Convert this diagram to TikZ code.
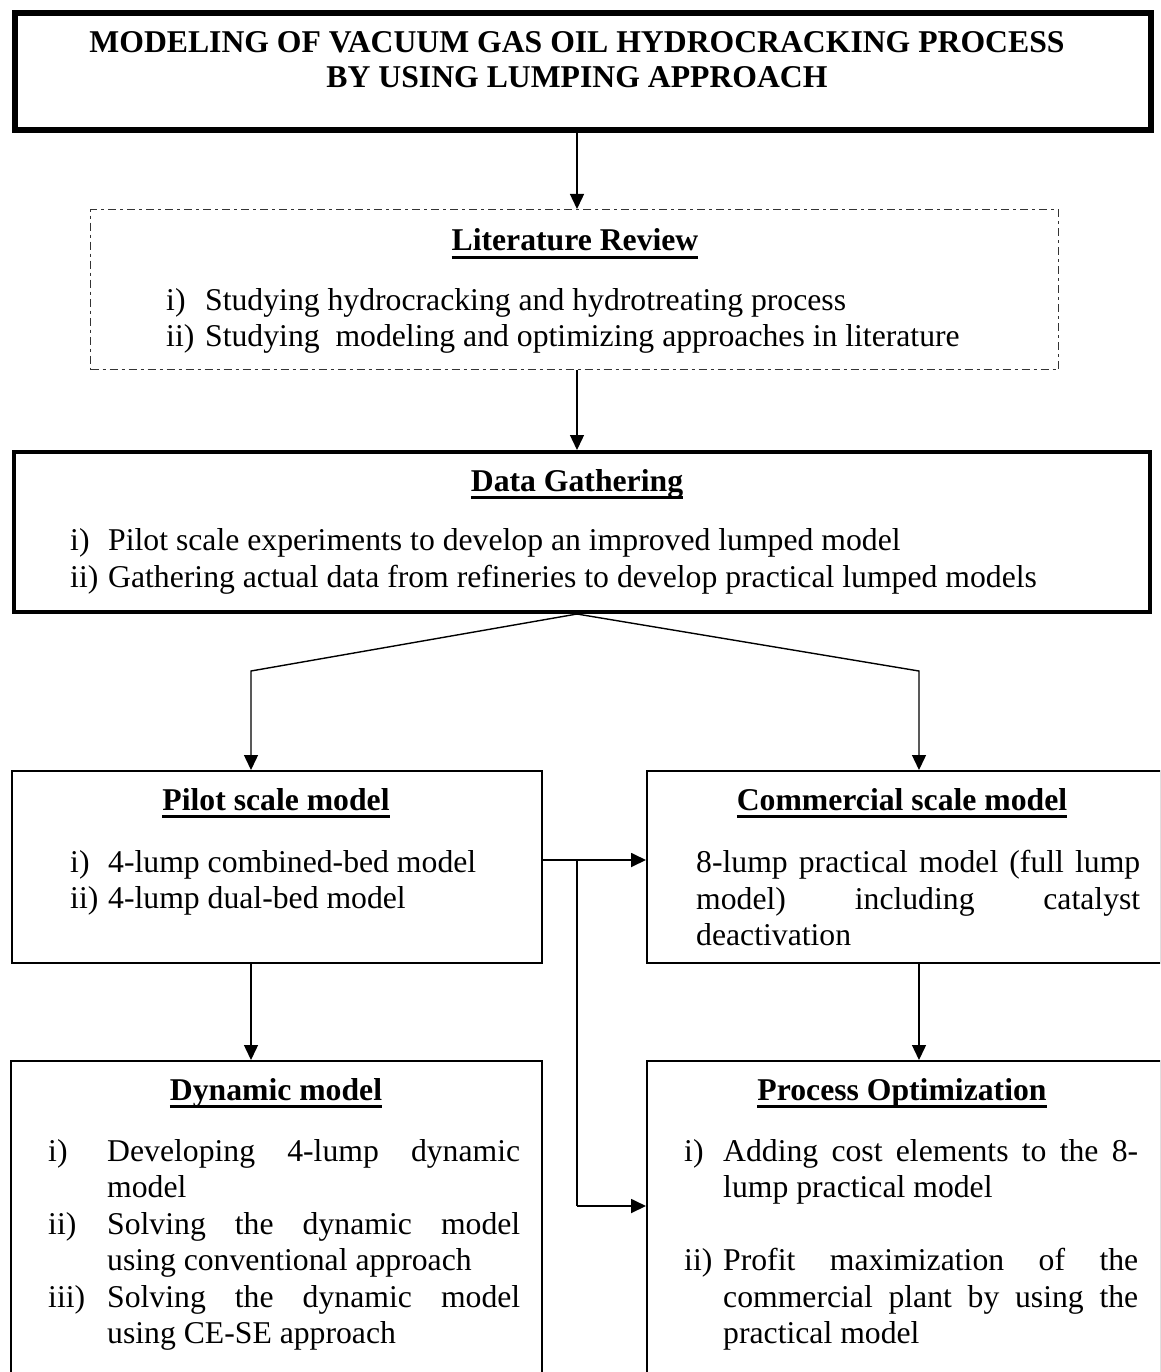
\documentclass[tikz,border=0pt]{standalone}
\usepackage{fontspec}
\setmainfont{Liberation Serif}
\usetikzlibrary{arrows.meta}
\newcommand\hul[1]{\setbox0=\hbox{#1}\rlap{\rule[-8pt]{\wd0}{3pt}}\box0}
\begin{document}
\begin{tikzpicture}[x=1pt,y=-1pt,
  txt/.style={inner sep=0pt, anchor=base west, font=\fontsize{31.7}{36.5}\selectfont},
  hd/.style={inner sep=0pt, anchor=base, font=\fontsize{31.7}{36.5}\selectfont\bfseries},
  boxx/.style={draw, inner sep=0pt, anchor=north west, line width=2.2pt},
  arr/.style={-{Triangle[length=15pt,width=14pt]}, line width=1.4pt},
  harr/.style={-{Triangle[length=15pt,width=14pt]}, line width=1.8pt}]
\useasboundingbox (0,0) rectangle (1160,1372);
\clip (0,0) rectangle (1160,1372);
\fill[white] (0,0) rectangle (1160,1372);

% boxes
\node[boxx, line width=6pt, minimum width=1136pt, minimum height=117pt] (title) at (12,10) {};
\node[draw=black!80, dash pattern=on 8pt off 4pt on 3pt off 4pt, line width=1.2pt, inner sep=0pt, anchor=north west,
      minimum width=968pt, minimum height=160pt] (lit) at (90,209) {};
\node[boxx, line width=4pt, minimum width=1136pt, minimum height=160pt] (data) at (12,450) {};
\node[boxx, minimum width=530pt, minimum height=192pt] (pilot) at (11,770) {};
\node[boxx, minimum width=514pt, minimum height=192pt] (comm) at (646,770) {};
\node[boxx, minimum width=531pt, minimum height=360pt] (dyn) at (10,1060) {};
\node[boxx, minimum width=514pt, minimum height=360pt] (proc) at (646,1060) {};

% title
\node[hd] (t1) at (577,53) {MODELING OF VACUUM GAS OIL HYDROCRACKING PROCESS};
\node[hd] (t2) at (577,88) {BY USING LUMPING APPROACH};

% literature review
\node[hd] (lh) at (575,251) {\hul{Literature Review}};
\node[txt] (l1a) at (166,310) {i)};
\node[txt] (l1b) at (205,310) {Studying hydrocracking and hydrotreating process};
\node[txt] (l2a) at (166,346) {ii)};
\node[txt] (l2b) at (205,346) {Studying\ \ modeling and optimizing approaches in literature};

% data gathering
\node[hd] (dh) at (577,491) {\hul{Data Gathering}};
\node[txt] (d1a) at (70,550) {i)};
\node[txt] (d1b) at (108,550) {Pilot scale experiments to develop an improved lumped model};
\node[txt] (d2a) at (70,587) {ii)};
\node[txt] (d2b) at (108,587) {Gathering actual data from refineries to develop practical lumped models};

% pilot
\node[hd] (ph) at (276,810) {\hul{Pilot scale model}};
\node[txt] (p1a) at (70,872) {i)};
\node[txt] (p1b) at (108,872) {4-lump combined-bed model};
\node[txt] (p2a) at (70,908) {ii)};
\node[txt] (p2b) at (108,908) {4-lump dual-bed model};

% commercial
\node[hd] (ch) at (902,810) {\hul{Commercial scale model}};
\node[txt] (c1) at (696,872) {\makebox[444pt][s]{8-lump practical model (full lump}};
\node[txt] (c2) at (696,909) {\makebox[444pt][s]{model) including catalyst}};
\node[txt] (c3) at (696,945) {deactivation};

% dynamic
\node[hd] (yh) at (276,1100) {\hul{Dynamic model}};
\node[txt] (y1a) at (48,1161) {i)};
\node[txt] (y1b) at (107,1161) {\makebox[413pt][s]{Developing 4-lump dynamic}};
\node[txt] (y1c) at (107,1197) {model};
\node[txt] (y2a) at (48,1234) {ii)};
\node[txt] (y2b) at (107,1234) {\makebox[413pt][s]{Solving the dynamic model}};
\node[txt] (y2c) at (107,1270) {using conventional approach};
\node[txt] (y3a) at (48,1307) {iii)};
\node[txt] (y3b) at (107,1307) {\makebox[413pt][s]{Solving the dynamic model}};
\node[txt] (y3c) at (107,1343) {using CE-SE approach};

% process optimization
\node[hd] (oh) at (902,1100) {\hul{Process Optimization}};
\node[txt] (o1a) at (684,1161) {i)};
\node[txt] (o1b) at (723,1161) {\makebox[415pt][s]{Adding cost elements to the 8-}};
\node[txt] (o1c) at (723,1197) {lump practical model};
\node[txt] (o2a) at (684,1270) {ii)};
\node[txt] (o2b) at (723,1270) {\makebox[415pt][s]{Profit maximization of the}};
\node[txt] (o2c) at (723,1307) {\makebox[415pt][s]{commercial plant by using the}};
\node[txt] (o2d) at (723,1343) {practical model};

% connectors
\coordinate (top) at (577,0);
\coordinate (pL) at (251,671);
\coordinate (pR) at (919,671);
\coordinate (j) at (577,860);
\coordinate (k) at (577,1206);
\draw[arr] (top |- title.south) -- (top |- lit.north);
\draw[arr] (top |- lit.south) -- (top |- data.north);
\draw[arr] (top |- data.south) -- (pL) -- (pL |- pilot.north);
\draw[arr] (top |- data.south) -- (pR) -- (pR |- comm.north);
\draw[arr] (pL |- pilot.south) -- (pL |- dyn.north);
\draw[arr] (pR |- comm.south) -- (pR |- proc.north);
\draw[harr] (pilot.east |- j) -- (comm.west |- j);
\draw[line width=1.4pt] (j) -- (k);
\draw[harr] (k) -- (proc.west |- k);
\end{tikzpicture}
\end{document}
